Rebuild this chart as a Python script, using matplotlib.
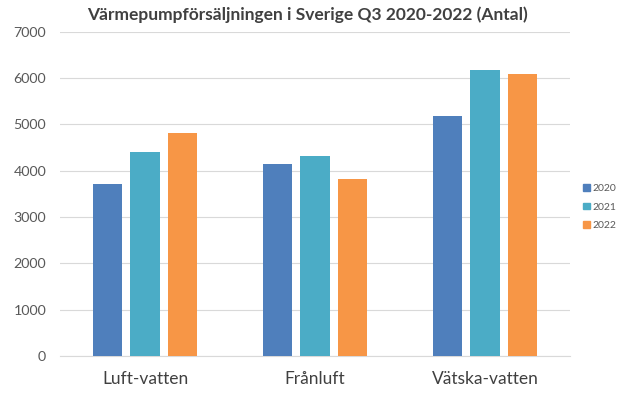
import numpy as np
import matplotlib.pyplot as plt
from matplotlib.patches import Patch

plt.rcParams['font.family'] = ['Lato', 'DejaVu Sans']

categories = ['Luft-vatten', 'Frånluft', 'Vätska-vatten']
years = ['2020', '2021', '2022']
v2020 = [3710, 4135, 5180]
v2021 = [4400, 4315, 6175]
v2022 = [4810, 3810, 6080]
colors = ['#4F7FBC', '#4BACC6', '#F79646']

fig = plt.figure(figsize=(6.29, 3.93), dpi=100)
ax = fig.add_axes([60/629, 37/393, 510/629, 324.3/393])

x = np.arange(len(categories))
slot = 0.222
width = 0.171
for i, vals in enumerate([v2020, v2021, v2022]):
    ax.bar(x + (i - 1) * slot, vals, width, color=colors[i], zorder=3)

ax.set_xlim(-0.5, 2.5)
ax.set_ylim(0, 7000)
ax.set_yticks(range(0, 7001, 1000))
ax.yaxis.grid(True, color='#D9D9D9', linewidth=0.8, zorder=0)
ax.set_xticks(x)
ax.set_xticklabels(categories, fontsize=12.5, color='#404040')
ax.tick_params(axis='y', labelsize=10.3, colors='#595959', length=0, pad=10)
ax.tick_params(axis='x', length=0, pad=11)
for s in ['top', 'right', 'left']:
    ax.spines[s].set_visible(False)
ax.spines['bottom'].set_color('#D9D9D9')

fig.text(307/629, 1 - 15/393, 'Värmepumpförsäljningen i Sverige Q3 2020-2022 (Antal)',
         ha='center', va='center', fontsize=12.5, fontweight='bold', color='#404040')

handles = [Patch(color=colors[i], label=years[i]) for i in range(3)]
fig.legend(handles=handles, loc='center left', bbox_to_anchor=(574/629, 1 - 207/393),
           frameon=False, fontsize=7.5, handlelength=0.6, handleheight=0.6,
           handletextpad=0.3, labelspacing=0.9, labelcolor='#595959')

fig.savefig('out.png', dpi=100)
